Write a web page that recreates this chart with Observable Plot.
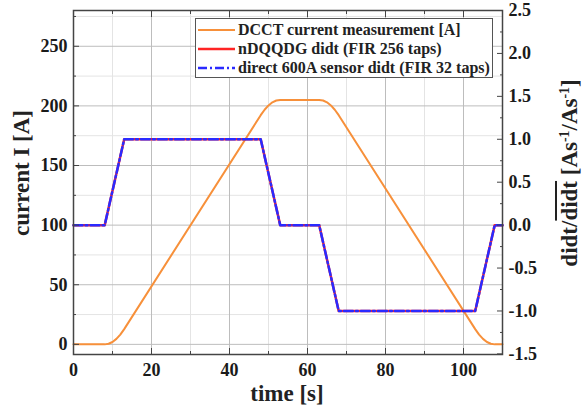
<!DOCTYPE html>
<html>
<head>
<meta charset="utf-8">
<script src="https://cdn.jsdelivr.net/npm/d3@7"></script>
<script src="https://cdn.jsdelivr.net/npm/@observablehq/plot@0.6"></script>
<style>
  html, body { margin: 0; padding: 0; background: #fff; }
  #wrap { position: relative; width: 584px; height: 411px; font-family: "Liberation Serif", "Times New Roman", serif; font-weight: bold; color: #222; }
  .lab { position: absolute; white-space: nowrap; font-size: 23px; }
  .legend { position: absolute; left: 195px; top: 18px; width: 298px; height: 60px; border: 1.5px solid #555; background: #fff; box-sizing: border-box; font-size: 16px; }
  .legend .row { position: absolute; left: 0; height: 20px; line-height: 20px; }
  .legend svg { position: absolute; left: 2px; top: 4px; }
  .legend span { position: absolute; left: 42px; top: 0; }
  sup { font-size: 0.6em; vertical-align: 0.6em; line-height: 0; }
</style>
</head>
<body>
<div id="wrap"></div>
<script>
// current measurement (DCCT) [A]
const tCurrent = [0, 8, 9, 10, 11, 12, 13, 48, 49, 50, 51, 52, 53, 63, 64, 65, 66, 67, 68, 103, 104, 105, 106, 107, 108, 110];
const current  = [0, 0, 0.5, 2, 4.6, 8.2, 12.8, 192.2, 196.8, 200.4, 203, 204.5, 205, 205, 204.5, 203, 200.4, 196.8, 192.2, 12.8, 8.2, 4.6, 2, 0.5, 0, 0];
// normalised didt
const tDidt = [0, 8, 13, 48, 53, 63, 68, 103, 108, 110];
const didtNDQQDG = [0, 0, 1, 1, 0, 0, -1, -1, 0, 0];
const didtDirect = [0, 0, 1, 1, 0, 0, -1, -1, 0, 0];
// ticks
const xTicks = [0, 20, 40, 60, 80, 100];
const xMinor = [10, 30, 50, 70, 90];
const yTicks = [0, 50, 100, 150, 200, 250];
const yMinor = [25, 75, 125, 175, 225, 275];
const rTicks = [-1.5, -1.0, -0.5, 0.0, 0.5, 1.0, 1.5, 2.0, 2.5];
const rMinor = [-1.25, -0.75, -0.25, 0.25, 0.75, 1.25, 1.75, 2.25];

// right axis (didt) expressed on the left scale
const toLeft = d => 100 + 72 * d;

const curData = tCurrent.map((t, i) => ({t, v: current[i]}));
const nData = tDidt.map((t, i) => ({t, v: toLeft(didtNDQQDG[i])}));
const dData = tDidt.map((t, i) => ({t, v: toLeft(didtDirect[i])}));

const font = {fontSize: 18, fontWeight: "bold", fontFamily: "Liberation Serif, serif", fill: "#1a1a1a"};

const chart = Plot.plot({
  width: 584,
  height: 411,
  marginLeft: 73,
  marginRight: 82,
  marginTop: 10,
  marginBottom: 57,
  x: {domain: [0, 110]},
  y: {domain: [-8.5, 280]},
  style: {fontFamily: "Liberation Serif, serif", background: "#fff"},
  marks: [
    Plot.gridX(xMinor, {stroke: "#e4e4e4", strokeOpacity: 1}),
    Plot.gridY(yMinor, {stroke: "#e4e4e4", strokeOpacity: 1}),
    Plot.gridX(xTicks, {stroke: "#bdbdbd", strokeOpacity: 1}),
    Plot.gridY(yTicks, {stroke: "#bdbdbd", strokeOpacity: 1}),
    Plot.line(curData, {x: "t", y: "v", stroke: "#f7903a", strokeWidth: 2}),
    Plot.line(nData, {x: "t", y: "v", stroke: "#ff2424", strokeWidth: 2.5}),
    Plot.line(dData, {x: "t", y: "v", stroke: "#2a2aff", strokeWidth: 2.5, strokeDasharray: "9,3,2,3"}),
    // bottom axis labels
    Plot.axisX(xTicks, {anchor: "bottom", tickSize: 0, tickPadding: 9, label: null, ...font}),
    // inward ticks
    Plot.axisX(xTicks, {anchor: "bottom", tickSize: 6, insetBottom: 6, tickFormat: () => "", label: null, stroke: "#444"}),
    Plot.axisX(xMinor, {anchor: "bottom", tickSize: 3, insetBottom: 3, tickFormat: () => "", label: null, stroke: "#444"}),
    Plot.axisX(xTicks, {anchor: "top", tickSize: 6, insetTop: 6, tickFormat: () => "", label: null, stroke: "#444"}),
    Plot.axisX(xMinor, {anchor: "top", tickSize: 3, insetTop: 3, tickFormat: () => "", label: null, stroke: "#444"}),
    // left axis
    Plot.axisY(yTicks, {anchor: "left", tickSize: 0, tickPadding: 6, label: null, ...font}),
    Plot.axisY(yTicks, {anchor: "left", tickSize: 6, insetLeft: 6, tickFormat: () => "", label: null, stroke: "#444"}),
    Plot.axisY(yMinor, {anchor: "left", tickSize: 3, insetLeft: 3, tickFormat: () => "", label: null, stroke: "#444"}),
    // right axis (didt)
    Plot.axisY(rTicks.map(toLeft), {anchor: "right", tickSize: 0, tickPadding: 6, label: null, tickFormat: v => ((v - 100) / 72).toFixed(1), ...font}),
    Plot.axisY(rTicks.map(toLeft), {anchor: "right", tickSize: 6, insetRight: 6, tickFormat: () => "", label: null, stroke: "#444"}),
    Plot.axisY(rMinor.map(toLeft), {anchor: "right", tickSize: 3, insetRight: 3, tickFormat: () => "", label: null, stroke: "#444"}),
    Plot.frame({stroke: "#444", strokeWidth: 1.5})
  ]
});

const wrap = document.getElementById("wrap");
wrap.appendChild(chart);

function addLabel(html, style) {
  const d = document.createElement("div");
  d.className = "lab";
  d.innerHTML = html;
  Object.assign(d.style, style);
  wrap.appendChild(d);
  return d;
}
// x label
addLabel("time [s]", {left: "287px", top: "381px", transform: "translateX(-50%)"});
// left y label
addLabel("current I [A]", {left: "22px", top: "173px", transform: "translate(-50%,-50%) rotate(-90deg)"});
// right y label
addLabel('didt/<span style="text-decoration: overline">didt</span> [As<sup>-1</sup>/As<sup>-1</sup>]',
  {left: "570px", top: "173px", transform: "translate(-50%,-50%) rotate(-90deg)"});

// legend
const legendItems = [
  {label: "DCCT current measurement [A]", color: "#f7903a", dash: null, w: 2},
  {label: "nDQQDG didt (FIR 256 taps)", color: "#ff2424", dash: null, w: 2.5},
  {label: "direct 600A sensor didt (FIR 32 taps)", color: "#2a2aff", dash: "9,3,2,3", w: 2.5}
];
const lg = document.createElement("div");
lg.className = "legend";
legendItems.forEach((it, i) => {
  const row = document.createElement("div");
  row.className = "row";
  row.style.top = (1 + i * 19) + "px";
  row.style.width = "296px";
  row.innerHTML = `<svg width="38" height="12"><line x1="0" x2="37" y1="6" y2="6" stroke="${it.color}" stroke-width="${it.w}" ${it.dash ? `stroke-dasharray="${it.dash}"` : ""}/></svg><span>${it.label}</span>`;
  lg.appendChild(row);
});
wrap.appendChild(lg);
</script>
</body>
</html>
